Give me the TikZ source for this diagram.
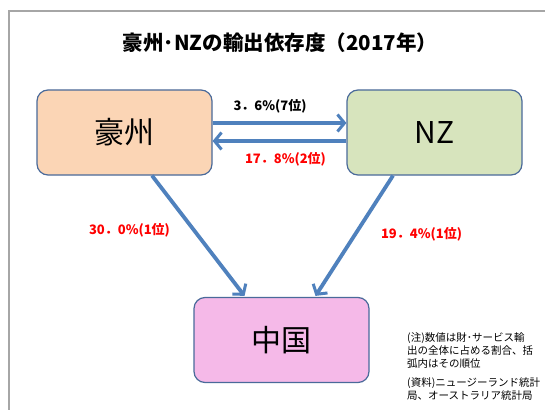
\documentclass[tikz,border=0pt]{standalone}
\usepackage{fontspec}
\setmainfont{Noto Sans CJK JP}
\usetikzlibrary{arrows.meta}
\definecolor{frame}{HTML}{A6A6A6}
\definecolor{edge}{HTML}{4A6A9A}
\definecolor{arr}{HTML}{4F81BD}
\definecolor{auf}{HTML}{FBD5B5}
\definecolor{nzf}{HTML}{D7E4BD}
\definecolor{cnf}{HTML}{F5B9E8}
\definecolor{lred}{HTML}{FF0000}
\tikzset{
  box/.style={draw=edge, line width=1.2pt, rounded corners=11pt, minimum width=175pt, minimum height=85pt, inner sep=0pt, font=\fontsize{30}{34}\selectfont},
  conn/.style={draw=arr, line width=3.8pt, -{Straight Barb[length=7pt,width=17pt,line width=3pt]}},
  lab/.style={font=\fontsize{13}{15}\selectfont\bfseries, inner sep=0pt},
}
\begin{document}
\begin{tikzpicture}[x=1pt,y=-1pt]
\useasboundingbox (0,0) rectangle (545,409);
\fill[white] (0,0) rectangle (545,409);
\draw[frame, line width=2pt] (9,420) -- (9,11) -- (560,11);
\node[font=\fontsize{20.5}{24}\selectfont\bfseries, inner sep=0pt] (title) at (280,43) {豪州･NZの輸出依存度（2017年）};
\node[box, fill=auf] (au) at (124.5,132.5) {豪州};
\node[box, fill=nzf] (nz) at (434.5,132.5) {NZ};
\node[box, fill=cnf] (cn) at (281.5,340) {中国};
\draw[conn] ([yshift=9.5pt]au.east) -- ([yshift=9.5pt]nz.west);
\draw[conn] ([yshift=-8.5pt]nz.west) -- ([yshift=-8.5pt]au.east);
\draw[conn] ([xshift=27.5pt]au.south) -- ([xshift=-37pt,yshift=1pt]cn.north);
\draw[conn] ([xshift=-41.5pt]nz.south) -- ([xshift=34pt,yshift=1pt]cn.north);
\node[lab] (l1) at (270,106) {3．6\%(7位)};
\node[lab, text=lred] (l2) at (285.5,159) {17．8\%(2位)};
\node[lab, text=lred] (l3) at (129.5,230) {30．0\%(1位)};
\node[lab, text=lred] (l4) at (421.5,234) {19．4\%(1位)};
\node[anchor=north west, align=left, inner sep=0pt, font=\fontsize{10.5}{13}\selectfont] (note) at (407,332)
 {(注)数値は財･サービス輸\\出の全体に占める割合、括\\弧内はその順位\\[6pt](資料)ニュージーランド統計\\局、オーストラリア統計局};
\end{tikzpicture}
\end{document}
